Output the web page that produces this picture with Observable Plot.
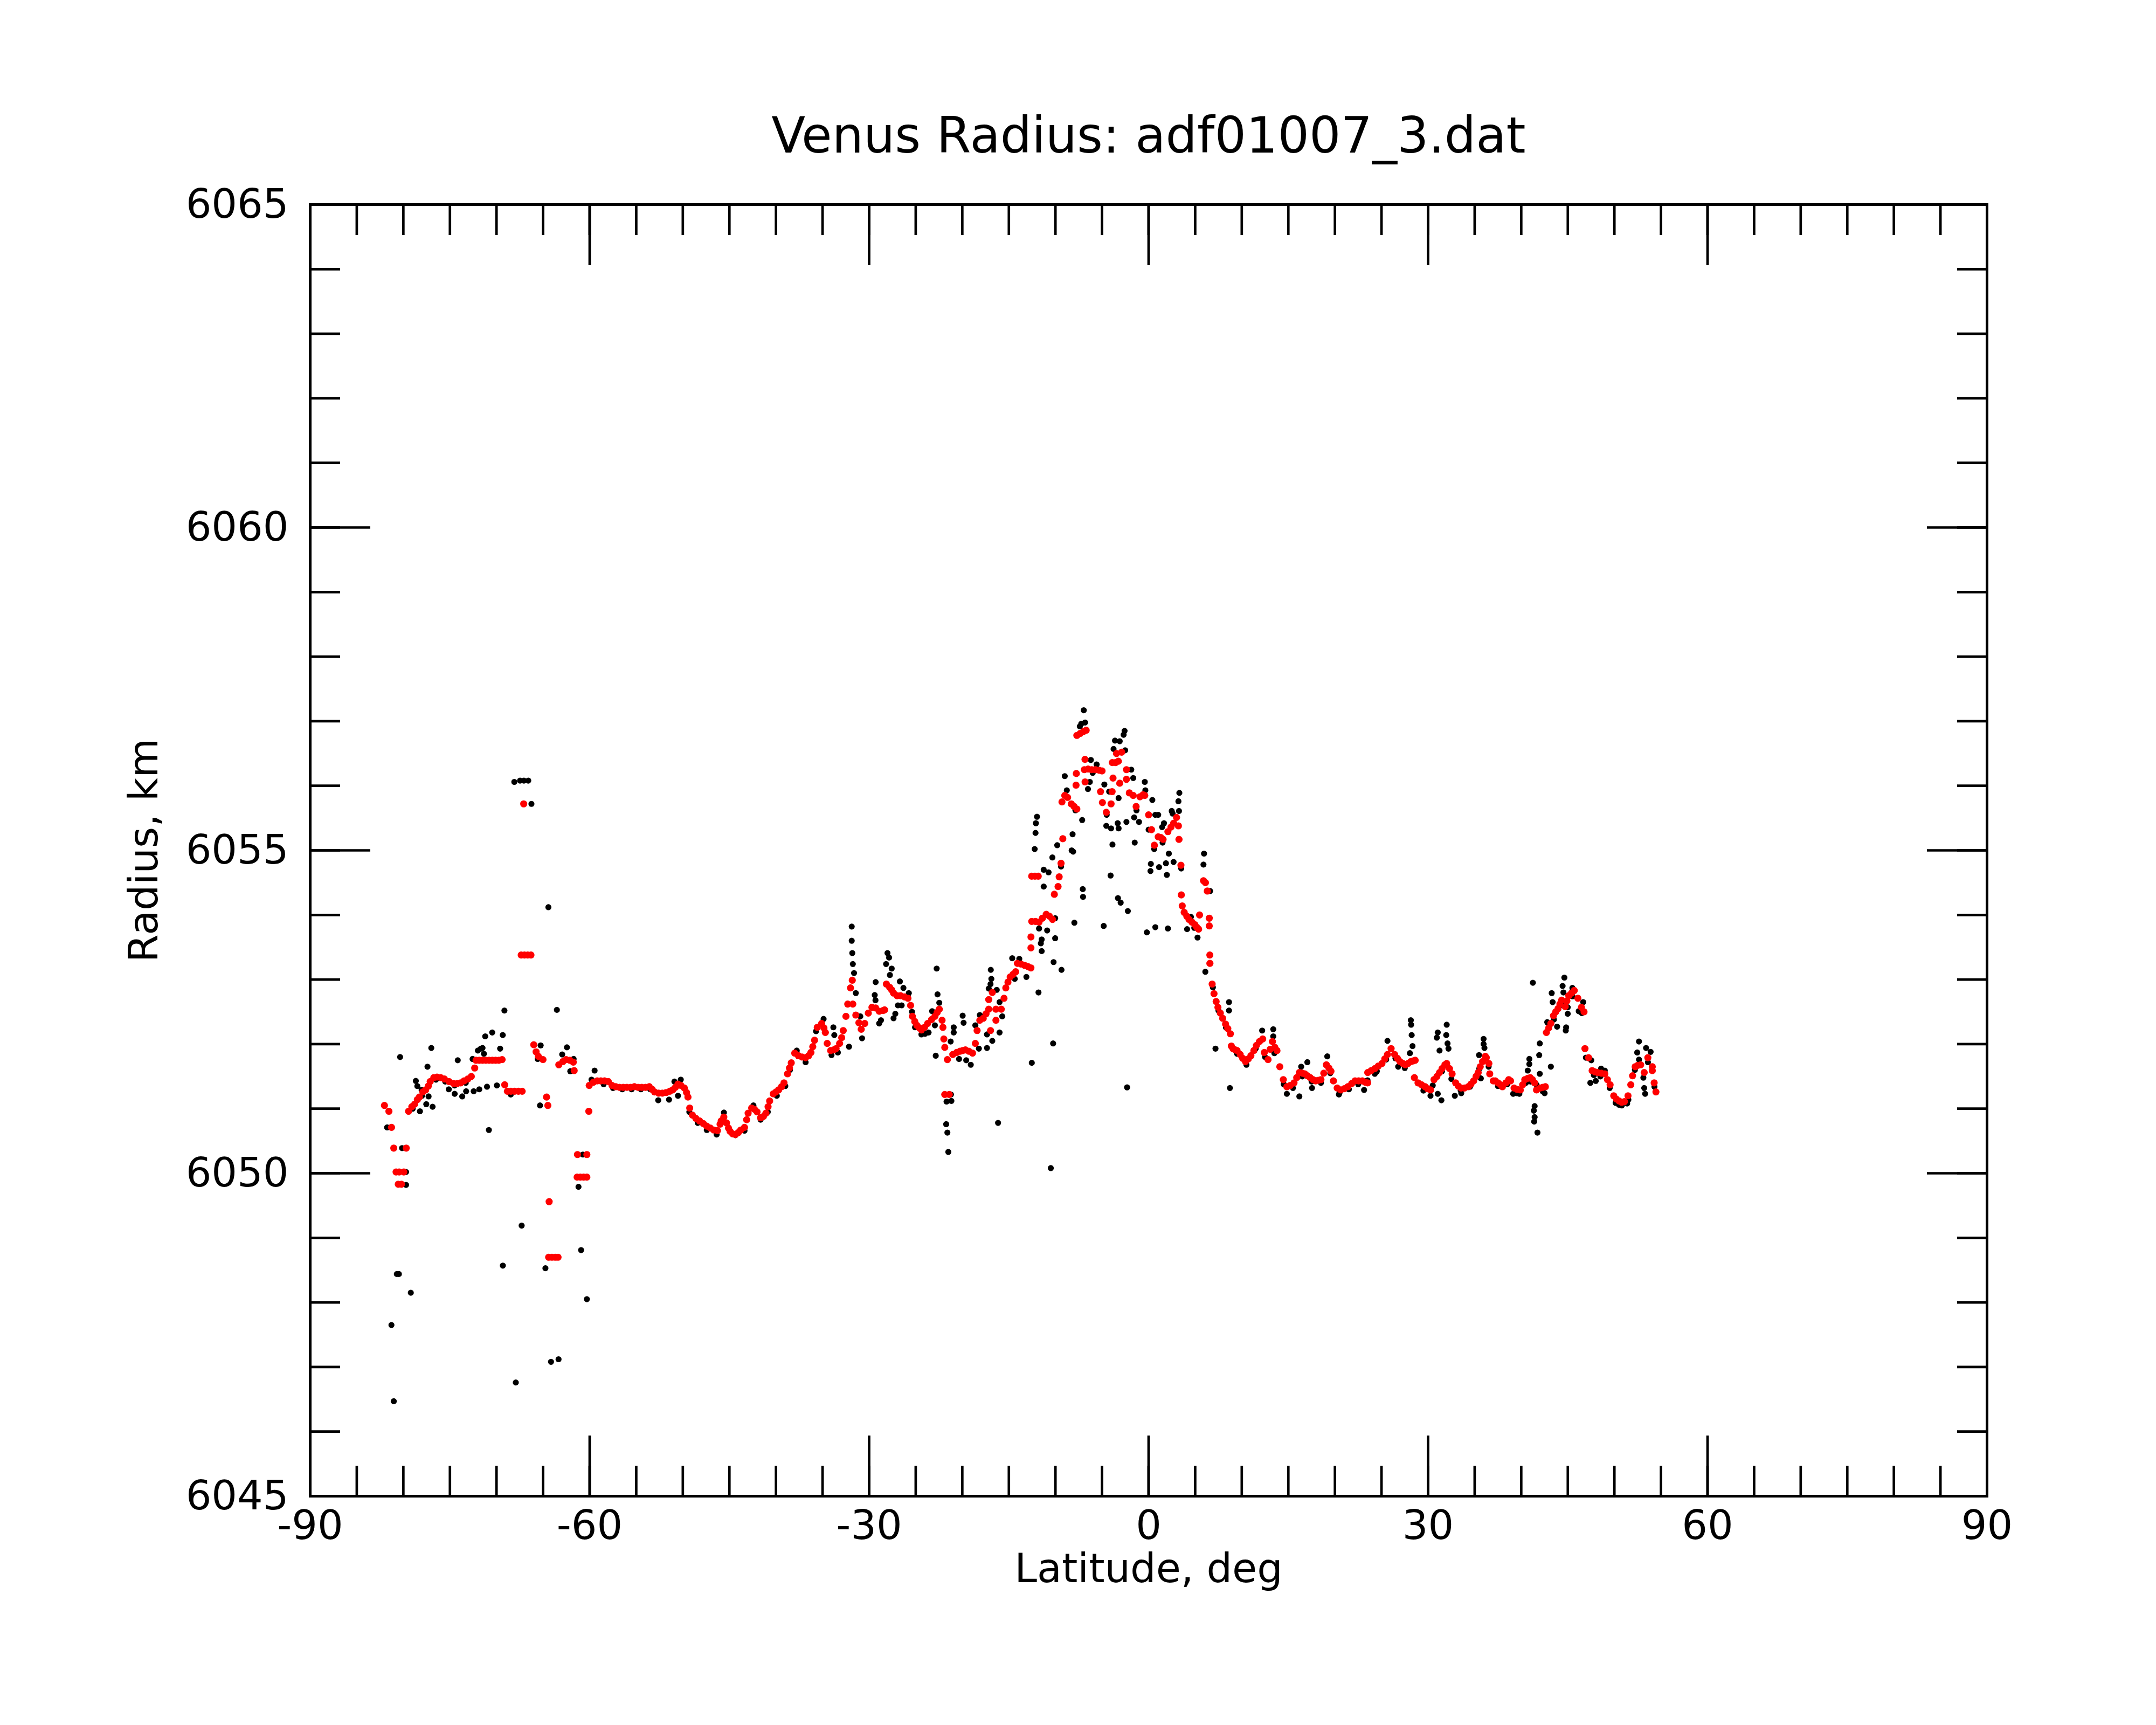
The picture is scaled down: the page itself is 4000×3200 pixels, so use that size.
<!DOCTYPE html>
<html>
<head>
<meta charset="utf-8">
<script src="https://cdn.jsdelivr.net/npm/d3@7"></script>
<script src="https://cdn.jsdelivr.net/npm/@observablehq/plot@0.6"></script>
<style>
  html, body { margin: 0; padding: 0; background: #ffffff; }
  #chart svg { display: block; }
</style>
</head>
<body>
<div id="chart"></div>
<script>
// ---------------- text ----------------
const titleText = "Venus Radius: adf01007_3.dat";
const xLabelText = "Latitude, deg";
const yLabelText = "Radius, km";

// ---------------- ticks ----------------
const xMajorTicks = [-90, -60, -30, 0, 30, 60, 90];
const xMinorTicks = [-90, -85, -80, -75, -70, -65, -60, -55, -50, -45, -40, -35, -30, -25, -20, -15, -10, -5, 0,
                     5, 10, 15, 20, 25, 30, 35, 40, 45, 50, 55, 60, 65, 70, 75, 80, 85, 90];
const yMajorTicks = [6045, 6050, 6055, 6060, 6065];
const yMinorTicks = [6045, 6046, 6047, 6048, 6049, 6050, 6051, 6052, 6053, 6054, 6055,
                     6056, 6057, 6058, 6059, 6060, 6061, 6062, 6063, 6064, 6065];

// ---------------- red series [latitude, radius] ----------------
const redSouth = [
  [-82.03,6051.05],[-81.55,6050.96],[-81.27,6050.71],[-81.03,6050.39],[-80.78,6050.02],[-80.45,6050.02],[-79.95,6050.02],
  [-80.55,6049.83],[-80.2,6049.83],[-79.69,6050.39],[-79.44,6050.96],[-79.09,6051.03],[-78.79,6051.07],[-78.5,6051.14],
  [-78.28,6051.18],[-77.91,6051.26],[-77.61,6051.29],[-77.32,6051.35],[-77.12,6051.42],[-76.73,6051.48],[-76.39,6051.49],
  [-75.99,6051.48],[-75.59,6051.46],[-75.1,6051.42],[-74.61,6051.39],[-74.21,6051.39],[-73.85,6051.40],[-73.48,6051.43],
  [-73.08,6051.46],[-72.7,6051.50],[-72.34,6051.63],[-72.2,6051.75],[-71.85,6051.75],[-71.5,6051.75],[-71.15,6051.75],
  [-70.8,6051.75],[-70.45,6051.75],[-70.1,6051.75],[-69.75,6051.75],[-69.4,6051.76],[-69.12,6051.37],[-68.83,6051.27],
  [-68.45,6051.27],[-68.05,6051.27],[-67.65,6051.27],[-67.25,6051.27],[-67.08,6055.72],[-67.35,6053.38],[-67.0,6053.38],
  [-66.65,6053.38],[-66.3,6053.38],[-66.0,6051.99],[-65.75,6051.88],[-65.51,6051.81],[-65.01,6051.76],[-64.63,6051.18],
  [-64.49,6051.05],[-64.35,6049.56],[-64.4,6048.70],[-64.05,6048.70],[-63.7,6048.70],[-63.4,6048.70],[-63.31,6051.68],
  [-62.87,6051.73],[-62.53,6051.76],[-62.13,6051.75],[-61.76,6051.72],[-61.66,6051.59],[-61.31,6050.29],[-60.3,6050.29],
  [-61.35,6049.94],[-61.0,6049.94],[-60.65,6049.94],[-60.3,6049.94],[-60.09,6050.96]
];
const redMid = [
  [-60.05,6051.36],[-59.6,6051.41],[-59.19,6051.43],[-58.8,6051.43],[-58.4,6051.43],[-58.0,6051.42],[-57.6,6051.36],
  [-57.2,6051.34],[-56.8,6051.33],[-56.4,6051.33],[-56.0,6051.33],[-55.6,6051.33],[-55.2,6051.34],[-54.8,6051.33],
  [-54.4,6051.33],[-54.0,6051.33],[-53.6,6051.34],[-53.3,6051.30],[-53.03,6051.26],[-52.6,6051.24],[-52.2,6051.24],
  [-51.8,6051.25],[-51.4,6051.27],[-51.09,6051.29],[-50.8,6051.33],[-50.52,6051.38],[-50.2,6051.36],[-49.84,6051.32],
  [-49.6,6051.25],[-49.45,6051.18],[-49.26,6051.01],[-48.97,6050.90],[-48.6,6050.85],[-48.2,6050.81],[-47.8,6050.77],
  [-47.43,6050.73],[-47.05,6050.70],[-46.67,6050.67],[-46.28,6050.66],[-46.0,6050.76],[-45.88,6050.81],[-45.6,6050.87],
  [-45.31,6050.78],[-45.1,6050.70],[-44.93,6050.65],[-44.65,6050.61],[-44.35,6050.60],[-44.05,6050.63],[-43.78,6050.67],
  [-43.38,6050.71],[-43.15,6050.83],[-42.99,6050.93],[-42.61,6051.01],[-42.3,6050.99],[-42.03,6050.95],[-41.65,6050.86],
  [-41.35,6050.88],[-41.08,6050.93],[-40.85,6051.03],[-40.68,6051.12],[-40.29,6051.23],[-40.0,6051.26],[-39.72,6051.29],
  [-39.4,6051.34],[-39.14,6051.40],[-38.76,6051.54],[-38.55,6051.63],[-38.36,6051.71],[-37.99,6051.86],[-37.59,6051.82],
  [-37.2,6051.80],[-36.82,6051.79],[-36.5,6051.82],[-36.25,6051.87],[-36.05,6051.96],[-35.86,6052.06],[-35.57,6052.26],
  [-35.1,6052.32],[-34.85,6052.25],[-34.7,6052.18],[-34.5,6052.01],[-34.13,6051.90],[-33.8,6051.91],[-33.55,6051.93],
  [-33.17,6052.01],[-32.95,6052.10],[-32.78,6052.21],[-32.49,6052.43],[-32.3,6052.62],[-32.0,6052.87],[-31.81,6052.99],
  [-31.75,6052.62],[-31.43,6052.45],[-31.1,6052.33],[-30.85,6052.23],[-30.47,6052.32],[-30.09,6052.48],[-29.7,6052.57],
  [-29.3,6052.56],[-28.92,6052.51],[-28.5,6052.52],[-28.34,6052.53],[-28.15,6052.93],[-27.8,6052.88],[-27.58,6052.84],
  [-27.38,6052.79],[-27.0,6052.75],[-26.62,6052.75],[-26.2,6052.73],[-25.83,6052.71],[-25.55,6052.60],[-25.36,6052.43],
  [-25.1,6052.35],[-24.87,6052.29],[-24.6,6052.25],[-24.39,6052.22],[-24.05,6052.26],[-23.72,6052.32],[-23.3,6052.38],
  [-22.94,6052.43],[-22.7,6052.49],[-22.47,6052.54],[-22.17,6052.37],[-22.08,6052.26],[-21.98,6052.08],[-21.88,6051.95],
  [-21.6,6051.76],[-21.88,6051.22],[-21.4,6051.22],[-21.02,6051.84],[-20.6,6051.87],[-20.24,6051.89],[-19.95,6051.90],
  [-19.67,6051.91],[-19.3,6051.89],[-18.9,6051.86],[-18.6,6052.01],[-18.41,6052.21],[-18.12,6052.37],[-17.75,6052.40],
  [-17.45,6052.47],[-17.16,6052.54],[-16.97,6052.21],[-17.16,6052.69],[-16.78,6052.80],[-16.39,6052.54],[-16.39,6052.37],
  [-15.82,6052.54],[-15.52,6052.71],[-15.33,6052.87],[-15.1,6052.96],[-14.86,6053.04],[-14.55,6053.08],[-14.27,6053.12],
  [-14.08,6053.25],[-13.7,6053.24],[-13.31,6053.22],[-12.95,6053.20]
];
const redPeak = [
  [-12.63,6053.18],[-12.63,6053.49],[-12.63,6053.66],[-12.54,6053.90],[-12.15,6053.90],[-11.76,6053.89],[-11.4,6053.95],
  [-10.99,6054.01],[-10.65,6053.98],[-10.31,6053.93],[-10.12,6054.32],[-12.55,6054.60],[-12.2,6054.60],[-11.85,6054.60],
  [-9.72,6054.44],[-9.60,6054.59],[-9.40,6054.80],[-9.21,6055.18],[-9.3,6055.75],[-9.0,6055.85],[-8.7,6055.82],
  [-8.3,6055.72],[-8.0,6055.68],[-7.7,6055.64],[-7.79,6056.01],[-7.76,6056.19],[-7.7,6056.78],[-7.35,6056.81],
  [-7.0,6056.84],[-6.7,6056.86],[-6.83,6056.41],[-6.82,6056.06],[-6.9,6056.25],[-6.5,6056.26],[-6.1,6056.25],
  [-5.7,6056.25],[-5.3,6056.24],[-5.0,6056.23],[-5.16,6055.91],[-4.96,6055.74],[-4.54,6055.59],[-4.03,6055.72],
  [-3.92,6055.91],[-3.82,6056.12],[-3.9,6056.36],[-3.55,6056.36],[-3.25,6056.38],[-3.45,6056.50],[-2.89,6056.52],
  [-3.1,6056.04],[-2.38,6056.10],[-2.38,6056.25],[-2.07,6055.89],[-1.65,6055.85],[-1.34,6055.68],[-0.93,6055.83],
  [-0.6,6055.86],[-0.41,6055.85],[0.0,6055.55],[0.31,6055.32],[0.62,6055.08],[1.03,6055.21],[1.3,6055.20],
  [1.55,6055.17],[2.07,6055.29],[2.4,6055.36],[2.69,6055.42],[3.0,6055.51],[3.2,6055.38],[3.26,6055.17],
  [3.47,6054.77],[3.51,6054.31],[3.61,6054.14],[3.82,6054.04],[4.1,6053.98],[4.34,6053.93],[4.65,6053.89],
  [4.96,6053.85],[5.17,6053.81],[5.37,6053.78],[5.47,6054.00],[5.89,6054.53],[6.1,6054.50],[6.3,6054.37],[6.51,6053.95],
  [6.51,6053.83],[6.57,6053.38],[6.58,6053.25],[6.82,6052.93],[7.02,6052.78],[7.25,6052.66],[7.44,6052.57],
  [7.7,6052.48],[7.95,6052.40],[8.26,6052.31],[8.5,6052.24],[8.78,6052.16],[8.88,6051.97]
];
const redNorth = [
  [9.06,6051.93],[9.3,6051.91],[9.5,6051.90],[9.83,6051.84],[10.1,6051.78],[10.4,6051.73],[10.7,6051.77],[10.98,6051.82],
  [11.3,6051.90],[11.57,6051.98],[11.9,6052.04],[12.25,6052.08],[12.42,6051.87],[12.82,6051.76],[13.05,6051.92],[13.29,6052.04],
  [13.55,6051.95],[13.78,6051.90],[14.08,6051.65],[14.46,6051.45],[14.84,6051.34],[15.2,6051.36],[15.61,6051.40],
  [15.9,6051.48],[16.18,6051.56],[16.5,6051.55],[16.76,6051.54],[17.05,6051.51],[17.35,6051.48],[17.65,6051.45],
  [17.93,6051.43],[18.2,6051.44],[18.5,6051.45],[18.8,6051.55],[19.08,6051.68],[19.35,6051.63],[19.57,6051.58],
  [19.84,6051.43],[20.24,6051.32],[20.63,6051.29],[21.0,6051.31],[21.39,6051.34],[21.8,6051.39],[22.16,6051.43],
  [22.55,6051.43],[22.94,6051.43],[23.25,6051.41],[23.52,6051.40],[23.52,6051.56],[23.9,6051.59],[24.28,6051.62],
  [24.65,6051.66],[25.05,6051.70],[25.35,6051.77],[25.64,6051.84],[26.03,6051.93],[26.41,6051.84],[26.7,6051.78],
  [26.98,6051.73],[27.3,6051.70],[27.56,6051.68],[27.85,6051.70],[28.15,6051.73],[28.4,6051.74],[28.62,6051.75],
  [28.53,6051.48],[28.92,6051.40],[29.3,6051.37],[29.68,6051.34],[29.95,6051.31],[30.26,6051.29],[30.64,6051.45],
  [30.95,6051.50],[31.23,6051.56],[31.5,6051.62],[31.81,6051.68],[32.0,6051.70],[32.3,6051.62],[32.58,6051.54],
  [32.96,6051.40],[33.25,6051.35],[33.54,6051.32],[33.9,6051.32],[34.32,6051.34],[34.6,6051.38],[34.89,6051.43],
  [35.15,6051.50],[35.38,6051.56],[35.6,6051.65],[35.85,6051.73],[36.15,6051.81],[36.25,6051.79],[36.53,6051.70],
  [36.62,6051.54],[37.0,6051.43],[37.21,6051.43],[37.5,6051.40],[37.79,6051.37],[37.98,6051.34],[38.36,6051.40],
  [38.66,6051.45],[38.85,6051.43],[39.23,6051.32],[39.55,6051.30],[39.9,6051.29],[40.15,6051.37],[40.38,6051.45],
  [40.7,6051.47],[40.96,6051.48],[41.2,6051.45],[41.44,6051.40],[41.64,6051.29],[42.02,6051.32],[42.3,6051.33],
  [42.59,6051.34],[42.7,6052.18],[42.95,6052.25],[43.18,6052.32],[43.46,6052.44],[43.7,6052.50],[43.95,6052.55],
  [44.15,6052.62],[44.34,6052.68],[44.72,6052.58],[44.9,6052.67],[45.1,6052.75],[45.4,6052.79],[45.69,6052.83],[46.08,6052.71],
  [46.46,6052.57],[46.74,6052.50],[46.84,6051.93],[47.23,6051.79],[47.61,6051.59],[47.9,6051.57],[48.19,6051.56],
  [48.6,6051.55],[48.97,6051.54],[49.25,6051.45],[49.54,6051.37],[49.93,6051.20],[50.2,6051.15],[50.5,6051.12],
  [50.8,6051.10],[51.08,6051.11],[51.46,6051.20],[51.76,6051.37],[51.95,6051.51],[52.23,6051.65],[52.5,6051.67],
  [52.82,6051.68],[53.2,6051.56],[53.59,6051.79],[54.07,6051.65],[54.07,6051.59],[54.27,6051.40],[54.46,6051.26]
];

// ---------------- black series [latitude, radius] ----------------
const blackSouth = [
  [-81.74,6050.71],[-80.14,6050.39],[-79.71,6050.02],[-79.71,6049.82],[-80.35,6051.80],[-78.66,6051.43],[-78.5,6051.35],
  [-78.04,6051.29],[-77.29,6051.19],[-77.54,6051.07],[-76.86,6051.03],[-78.22,6050.96],[-77.0,6051.94],[-77.41,6051.65],
  [-75.12,6051.30],[-74.49,6051.23],[-73.68,6051.19],[-73.26,6051.27],[-72.45,6051.27],[-71.85,6051.30],[-74.16,6051.75],
  [-72.57,6051.77],[-72.0,6051.90],[-71.5,6051.94],[-71.35,6051.85],[-71.68,6051.93],[-71.21,6052.12],[-70.46,6052.18],
  [-69.33,6052.14],[-69.61,6051.93],[-71.02,6051.34],[-69.96,6051.36],[-68.47,6051.22],[-70.82,6050.67],[-69.15,6052.52],
  [-68.09,6056.06],[-67.47,6056.08],[-67.06,6056.08],[-66.59,6056.08],[-66.25,6055.72],[-64.43,6054.12],[-63.52,6052.53],
  [-65.26,6051.98],[-65.58,6051.77],[-65.33,6051.05],[-62.44,6051.95],[-62.95,6051.84],[-62.08,6051.58],[-61.72,6051.77],
  [-59.8,6051.45],[-59.47,6051.59],[-61.2,6049.79],[-60.73,6050.29],[-67.3,6049.19],[-69.32,6048.57],[-64.75,6048.53],
  [-60.92,6048.81],[-60.3,6048.05],[-80.7,6048.44],[-80.48,6048.44],[-79.2,6048.15],[-81.28,6047.65],[-64.15,6047.08],
  [-63.34,6047.12],[-67.93,6046.76],[-81.03,6046.47],[-79.0,6051.00],[-78.0,6051.20],[-76.5,6051.45],[-75.5,6051.42],
  [-74.5,6051.36],[-73.3,6051.40]
];
const blackMid = [
  [-58.5,6051.38],[-57.5,6051.32],[-56.5,6051.30],[-55.5,6051.30],[-54.5,6051.30],[-53.5,6051.30],[-52.64,6051.13],
  [-51.48,6051.14],[-50.52,6051.20],[-50.22,6051.45],[-50.9,6051.42],[-49.3,6050.95],[-48.4,6050.78],[-47.43,6050.67],
  [-46.37,6050.60],[-45.59,6050.94],[-44.35,6050.59],[-43.38,6050.66],[-42.42,6051.05],[-41.65,6050.83],[-40.88,6050.95],
  [-39.91,6051.20],[-39.0,6051.35],[-38.5,6051.60],[-37.77,6051.90],[-36.82,6051.72],[-35.7,6052.20],[-34.89,6052.39],
  [-33.84,6052.26],[-33.74,6052.14],[-34.04,6051.83],[-33.36,6051.87],[-31.87,6053.82],[-31.87,6053.60],[-31.81,6053.41],
  [-31.75,6053.24],[-31.62,6053.10],[-31.43,6052.79],[-32.16,6051.96],[-30.95,6052.43],[-30.76,6052.09],[-29.3,6052.96],
  [-29.4,6052.76],[-29.32,6052.68],[-28.92,6052.32],[-28.73,6052.37],[-28.03,6053.41],[-28.18,6053.24],[-27.86,6053.34],
  [-27.58,6053.17],[-27.77,6053.07],[-27.38,6052.40],[-27.19,6052.47],[-26.91,6052.60],[-26.7,6052.97],[-26.32,6052.87],
  [-25.74,6052.79],[-26.51,6052.60],[-25.4,6052.50],[-25.07,6052.26],[-24.39,6052.15],[-24.0,6052.16],[-23.62,6052.18],
  [-23.24,6052.51],[-22.94,6052.29],[-22.75,6053.17],[-22.66,6052.77],[-22.47,6052.64],[-22.85,6051.82],[-21.25,6052.04],
  [-20.92,6052.26],[-20.92,6052.18],[-19.96,6052.44],[-19.86,6052.33],[-21.22,6051.22],[-21.69,6051.11],[-21.17,6051.12],
  [-21.73,6050.76],[-21.6,6050.63],[-21.5,6050.33],[-20.35,6051.77],[-19.58,6051.75],[-19.09,6051.68],[-18.22,6051.93],
  [-18.6,6052.29],[-18.12,6052.45],[-17.35,6052.15],[-17.35,6051.94],[-16.78,6052.05],[-16.0,6052.18],[-15.71,6052.43],
  [-16.0,6052.65],[-16.3,6052.84],[-17.16,6052.86],[-16.97,6052.93],[-16.88,6053.01],[-16.94,6053.15],[-16.16,6050.78],
  [-14.64,6053.33],[-14.37,6053.01],[-13.88,6053.32],[-13.12,6053.04],[-12.54,6051.71],[-10.5,6050.08],[-10.25,6052.01],
  [-11.82,6052.80]
];
const blackPeak = [
  [-7.97,6053.88],[-4.82,6053.83],[-0.19,6053.73],[-3.29,6054.26],[-3.0,6054.19],[-2.23,6054.06],[-7.04,6054.28],
  [-7.07,6054.40],[-10.2,6053.27],[-9.35,6053.15],[-11.76,6053.79],[-10.89,6053.76],[-11.48,6053.62],[-11.57,6053.56],
  [-11.48,6053.44],[-10.03,6053.64],[-10.03,6053.95],[-6.96,6057.17],[-7.23,6056.96],[-6.82,6056.98],[-7.38,6056.92],
  [-2.58,6056.85],[-2.68,6056.79],[-3.61,6056.70],[-3.1,6056.69],[-3.76,6056.57],[-2.52,6056.55],[-6.2,6056.40],
  [-5.58,6056.33],[-9.0,6056.15],[-1.86,6056.25],[-1.65,6056.12],[-8.78,6055.93],[-6.51,6055.95],[-6.31,6056.06],
  [-4.75,6056.02],[-4.23,6055.91],[-0.41,6056.06],[0.4,6055.78],[-3.22,6055.81],[-7.13,6055.47],[-8.16,6055.25],
  [-8.26,6055.00],[-9.81,6055.08],[-10.33,6054.89],[-11.26,6054.70],[-10.74,6054.66],[-11.98,6055.52],[-12.1,6055.42],
  [-12.14,6055.27],[-12.23,6055.02],[-11.26,6054.44],[-8.1,6054.98],[-4.08,6054.61],[-3.88,6055.09],[-3.22,6055.34],
  [-4.03,6055.34],[-4.54,6055.38],[-3.32,6055.42],[-2.38,6055.44],[-1.49,6055.12],[-1.55,6055.51],[-1.03,6055.44],
  [-0.35,6055.93],[0.0,6055.32],[0.72,6055.55],[1.03,6055.55],[0.24,6054.79],[0.2,6054.68],[1.12,6054.74],
  [1.86,6054.80],[1.96,6054.62],[2.68,6054.82],[2.17,6054.95],[1.65,6055.42],[1.45,6055.36],[2.48,6055.61],
  [2.58,6055.57],[3.3,6055.89],[3.2,6055.76],[3.26,6055.61],[0.72,6053.81],[2.07,6053.79],[-2.31,6051.33],
  [5.95,6054.95],[5.89,6054.78],[6.6,6054.37],[6.09,6053.12],[7.18,6051.93],[8.63,6052.65],[8.63,6052.52],
  [8.73,6051.32],[4.54,6053.97],[5.25,6053.65],[4.13,6053.78],[-9.4,6054.75],[-7.85,6055.62],[-6.0,6056.20],
  [-4.5,6055.55],[-1.3,6055.62],[0.6,6055.02],[1.5,6055.12],[3.5,6054.72],[4.9,6053.80],[6.9,6052.88],
  [7.5,6052.52],[8.3,6052.26]
];
const blackNorth = [
  [12.19,6052.21],[13.38,6052.23],[13.38,6052.12],[17.04,6051.72],[19.18,6051.81],[25.64,6052.05],[28.15,6052.37],
  [28.18,6052.30],[28.24,6052.14],[28.33,6051.97],[28.05,6051.86],[31.04,6052.18],[30.94,6052.10],[32.0,6052.30],
  [31.95,6052.14],[32.09,6052.01],[32.19,6051.93],[31.23,6051.90],[31.04,6051.23],[31.43,6051.13],[30.26,6051.20],
  [32.87,6051.20],[35.96,6052.08],[35.96,6052.00],[36.05,6051.94],[35.47,6051.83],[35.66,6051.47],[14.84,6051.23],
  [17.54,6051.32],[20.43,6051.22],[23.13,6051.29],[24.28,6051.54],[26.79,6051.65],[33.56,6051.24],[16.38,6051.65],
  [16.18,6051.19],[39.13,6051.23],[39.8,6051.23],[40.87,6051.77],[40.87,6051.69],[40.7,6051.59],[41.25,6052.95],
  [41.99,6052.01],[41.93,6051.83],[41.99,6051.54],[43.18,6051.65],[41.64,6051.37],[42.51,6051.24],[41.44,6051.04],
  [41.35,6050.97],[41.44,6050.87],[41.39,6050.80],[41.74,6050.63],[44.63,6053.03],[44.44,6052.90],[44.53,6052.80],
  [43.27,6052.79],[43.37,6052.65],[45.49,6052.87],[46.65,6052.65],[46.17,6052.51],[44.99,6052.57],[44.99,6052.47],
  [43.85,6052.27],[44.82,6052.26],[44.78,6052.21],[42.79,6052.34],[52.64,6052.04],[53.4,6051.94],[53.89,6051.88],
  [52.45,6051.87],[52.64,6051.76],[53.11,6051.48],[53.2,6051.32],[53.3,6051.23],[47.42,6051.40],[48.0,6051.43],
  [48.57,6051.62],[48.97,6051.59],[46.94,6051.79],[47.52,6051.75],[50.13,6051.09],[50.8,6051.05],[51.37,6051.08],
  [9.5,6051.85],[10.5,6051.68],[11.5,6051.93],[12.5,6051.80],[13.5,6051.86],[14.5,6051.38],[15.5,6051.32],
  [16.5,6051.50],[17.5,6051.42],[18.5,6051.40],[19.5,6051.55],[20.5,6051.25],[21.5,6051.30],[22.5,6051.38],
  [23.5,6051.44],[24.5,6051.58],[25.5,6051.76],[26.5,6051.78],[27.5,6051.63],[29.5,6051.28],[30.5,6051.36],
  [31.5,6051.58],[32.5,6051.46],[33.5,6051.28],[34.5,6051.34],[35.5,6051.62],[36.5,6051.65],[37.5,6051.35],
  [38.5,6051.38],[39.5,6051.24],[40.5,6051.40],[41.0,6051.42],[42.3,6051.27],[43.5,6052.38],[44.5,6052.60],
  [45.5,6052.74],[46.5,6052.48],[47.8,6051.52],[48.5,6051.50],[49.5,6051.32],[50.5,6051.06],[51.5,6051.14],
  [52.2,6051.60],[53.6,6051.72],[54.3,6051.34]
];

// ---------------- build ----------------
const toRows = (arr) => arr.map(([lat, radius]) => ({lat, radius}));
const blackRows = toRows([...blackSouth, ...blackMid, ...blackPeak, ...blackNorth]);
const redRows = toRows([...redSouth, ...redMid, ...redPeak, ...redNorth]);

const FONT = "DejaVu Sans";
const TICK_W = 4.7;
const MAJOR = 112, MINOR = 56;
const fmt = (d) => String(d);
const blank = () => "";

const chart = Plot.plot({
  width: 4000,
  height: 3200,
  marginLeft: 575,
  marginRight: 314,
  marginTop: 379,
  marginBottom: 425,
  x: {domain: [-90, 90], label: null},
  y: {domain: [6045, 6065], label: null},
  style: {fontFamily: FONT, background: "#ffffff", color: "#000000", overflow: "visible"},
  marks: [
    Plot.dot(blackRows, {x: "lat", y: "radius", r: 5.6, fill: "#000000"}),
    Plot.dot(redRows, {x: "lat", y: "radius", r: 6.6, fill: "#ff0000"}),
    Plot.frame({stroke: "#000000", strokeWidth: 5}),
    // inward ticks, bottom & top
    Plot.axisX(xMinorTicks, {anchor: "bottom", tickSize: -MINOR, tickFormat: blank, strokeWidth: TICK_W, label: null}),
    Plot.axisX(xMajorTicks, {anchor: "bottom", tickSize: -MAJOR, tickFormat: blank, strokeWidth: TICK_W, label: null}),
    Plot.axisX(xMinorTicks, {anchor: "top", tickSize: -MINOR, tickFormat: blank, strokeWidth: TICK_W, label: null}),
    Plot.axisX(xMajorTicks, {anchor: "top", tickSize: -MAJOR, tickFormat: blank, strokeWidth: TICK_W, label: null}),
    // inward ticks, left & right
    Plot.axisY(yMinorTicks, {anchor: "left", tickSize: -MINOR, tickFormat: blank, strokeWidth: TICK_W, label: null}),
    Plot.axisY(yMajorTicks, {anchor: "left", tickSize: -MAJOR, tickFormat: blank, strokeWidth: TICK_W, label: null}),
    Plot.axisY(yMinorTicks, {anchor: "right", tickSize: -MINOR, tickFormat: blank, strokeWidth: TICK_W, label: null}),
    Plot.axisY(yMajorTicks, {anchor: "right", tickSize: -MAJOR, tickFormat: blank, strokeWidth: TICK_W, label: null}),
    // tick labels
    Plot.axisX(xMajorTicks, {anchor: "bottom", tickSize: 0, tickPadding: 26, tickFormat: fmt, fontSize: 75, label: null}),
    Plot.axisY(yMajorTicks, {anchor: "left", tickSize: 0, tickPadding: 40, tickFormat: fmt, fontSize: 75, label: null}),
    // title and axis labels
    Plot.text([titleText], {frameAnchor: "top", dy: -97, lineAnchor: "bottom", text: (d) => d, fontSize: 92}),
    Plot.text([xLabelText], {frameAnchor: "bottom", dy: 159, lineAnchor: "bottom", text: (d) => d, fontSize: 75}),
    Plot.text([yLabelText], {frameAnchor: "left", dx: -284, rotate: -90, lineAnchor: "bottom", textAnchor: "middle", text: (d) => d, fontSize: 75})
  ]
});

document.getElementById("chart").appendChild(chart);
</script>
</body>
</html>
